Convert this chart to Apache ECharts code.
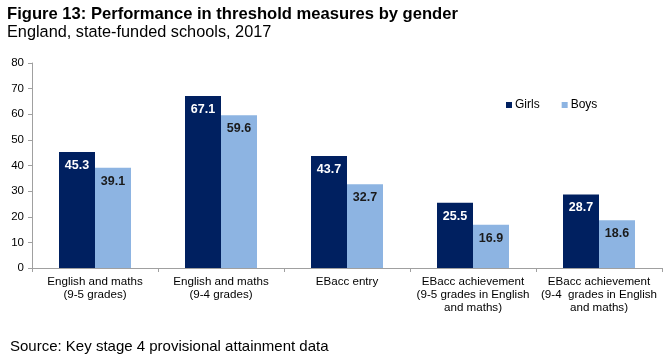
<!DOCTYPE html>
<html><head><meta charset="utf-8">
<script src="https://cdn.jsdelivr.net/npm/echarts@6/dist/echarts.min.js"></script>
<style>html,body{margin:0;padding:0;background:#fff}#c{width:672px;height:361px}</style>
</head><body><div id="c"></div>
<script>
const categories = [
  "English and maths\n(9-5 grades)",
  "English and maths\n(9-4 grades)",
  "EBacc entry",
  "EBacc achievement\n(9-5 grades in English\nand maths)",
  "EBacc achievement\n(9-4  grades in English\nand maths)"
];
const girls = [45.3, 67.1, 43.7, 25.5, 28.7];
const boys = [39.1, 59.6, 32.7, 16.9, 18.6];
const yTicks = { min: 0, max: 80, interval: 10 };

const font = 'Arial, "Liberation Sans", sans-serif';
const chart = echarts.init(document.getElementById('c'), null, {renderer: 'canvas'});
chart.setOption({
  animation: false,
  textStyle: { fontFamily: font },
  title: [
    { text: 'Figure 13: Performance in threshold measures by gender', left: 7, top: 6, padding: 0,
      textStyle: { fontFamily: font, fontSize: 16.6, fontWeight: 'bold', color: '#000' } },
    { text: 'England, state-funded schools, 2017', left: 7, top: 25, padding: 0,
      textStyle: { fontFamily: font, fontSize: 16.3, fontWeight: 'normal', color: '#000' } },
    { text: 'Source: Key stage 4 provisional attainment data', left: 10, top: 339, padding: 0,
      textStyle: { fontFamily: font, fontSize: 15, fontWeight: 'normal', color: '#000' } }
  ],
  legend: {
    data: ['Girls', 'Boys'], left: 501, top: 94, itemWidth: 6, itemHeight: 6, itemGap: 22,
    icon: 'rect',
    textStyle: { fontFamily: font, fontSize: 12, color: '#000', padding: [0, 0, 0, -2] }
  },
  grid: { left: 32, right: 10, top: 63, bottom: 93, containLabel: false },
  xAxis: {
    type: 'category', data: categories,
    axisLine: { lineStyle: { color: '#a0a0a0' } },
    axisTick: { show: true, alignWithLabel: false, length: 4, lineStyle: { color: '#a0a0a0' } },
    axisLabel: { interval: 0, fontFamily: font, fontSize: 11.6, color: '#000', lineHeight: 13, margin: 7 }
  },
  yAxis: {
    type: 'value', min: yTicks.min, max: yTicks.max, interval: yTicks.interval,
    axisLine: { show: true, lineStyle: { color: '#a0a0a0' } },
    axisTick: { show: true, length: 4, lineStyle: { color: '#a0a0a0' } },
    splitLine: { show: false },
    axisLabel: { fontFamily: font, fontSize: 11.5, color: '#000', margin: 8 }
  },
  series: [
    { name: 'Girls', type: 'bar', data: girls, barWidth: 36, barGap: '0%',
      itemStyle: { color: '#002060' },
      label: { show: true, position: 'insideTop', distance: 7, color: '#fff', fontWeight: 'bold', fontSize: 12.5, fontFamily: font } },
    { name: 'Boys', type: 'bar', data: boys, barWidth: 36,
      itemStyle: { color: '#8db4e2' },
      label: { show: true, position: 'insideTop', distance: 7, color: '#1a1a1a', fontWeight: 'bold', fontSize: 12.5, fontFamily: font } }
  ]
});
</script></body></html>
